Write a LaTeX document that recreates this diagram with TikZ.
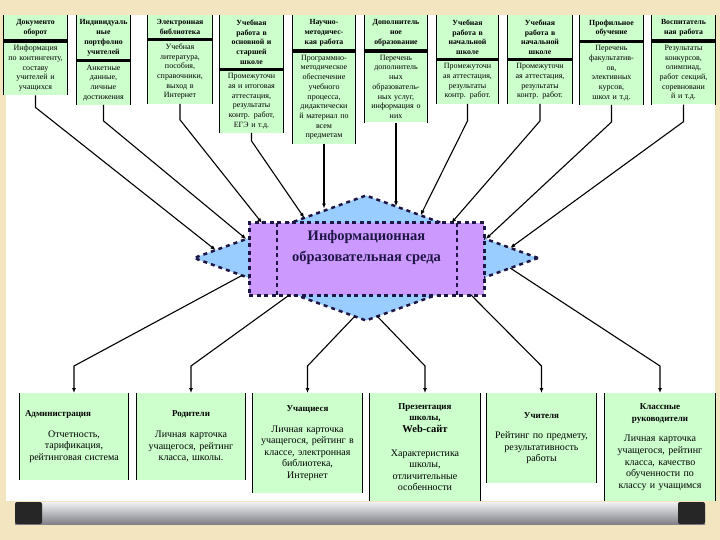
\documentclass[tikz,border=0pt]{standalone}
\usepackage{fontspec}
\setmainfont{Liberation Serif}
\usetikzlibrary{shapes.geometric,arrows.meta}
\definecolor{beige}{RGB}{243,229,192}
\definecolor{boxgreen}{RGB}{204,255,204}
\definecolor{envpurple}{RGB}{204,153,255}
\definecolor{envblue}{RGB}{153,204,255}
\definecolor{navy}{RGB}{30,22,70}
\definecolor{rail}{RGB}{184,186,196}
\tikzset{
  hd/.style={fill=boxgreen, anchor=north, inner xsep=2pt, inner ysep=4.5pt, text width=#1, align=center, font=\fontsize{7.8}{9.8}\selectfont\bfseries},
  bd/.style={fill=boxgreen, anchor=north, inner xsep=2pt, inner ysep=4pt, text width=#1, align=center, font=\fontsize{8}{9.7}\selectfont},
  low/.style={fill=boxgreen, anchor=north, inner xsep=2pt, text width=#1, align=center, font=\fontsize{10}{11.6}\selectfont},
  side/.style={line width=0.9pt},
  bar/.style={line width=3.5pt},
  dsh/.style={navy, line width=3pt, dash pattern=on 4pt off 3.5pt},
  arr/.style={line width=1.1pt, -{Latex[length=5pt,width=4pt]}},
  rra/.style={line width=1.1pt, {Latex[length=5pt,width=4pt]}-},
}
\begin{document}
\begin{tikzpicture}[x=1pt,y=-1pt]
            \useasboundingbox (0,0) rectangle (720,540);
            \fill[beige] (0,0) rectangle (720,540);
            \fill[white] (6,15) rectangle (715,501);
            \shade[top color=white!80!rail, middle color=rail, bottom color=rail!70!black] (15,502) rectangle (705,524);
            \fill[black!85, rounded corners=2pt] (15,502) rectangle (42,524) (678,502) rectangle (705,524);
            % centre
            \node[diamond, draw=navy, fill=envblue, line width=2.5pt, dash pattern=on 4pt off 4pt, minimum width=344pt, minimum height=125pt, inner sep=0pt, outer sep=0pt] (dia) at (366,258) {};
            \node[draw=navy, fill=envpurple, line width=3pt, dash pattern=on 4pt off 3.5pt, minimum width=235pt, minimum height=72pt, outer sep=0pt, text=navy, align=center, text depth=27pt, font=\fontsize{14.5}{21}\selectfont\bfseries] (rc) at (366.5,259) {Информационная\\образовательная среда};
            \draw[dsh, line width=2.5pt] ([xshift=28pt]rc.north west) -- ([xshift=28pt]rc.south west) ([xshift=-27pt]rc.north east) -- ([xshift=-27pt]rc.south east);
            % top row
            \node[hd=59pt] (h1) at (35.5,15) {Документо\\оборот};
            \node[bd=59pt] (b1) at (h1.south) {Информация\\по контингенту,\\составу\\учителей и\\учащихся};
            \node[hd=49pt] (h2) at (103.5,15) {Индивидуаль\\ные\\портфолио\\учителей};
            \node[bd=49pt] (b2) at (h2.south) {Анкетные\\данные,\\личные\\достижения};
            \node[hd=60pt] (h3) at (180,15) {Электронная\\библиотека};
            \node[bd=60pt] (b3) at (h3.south) {Учебная\\литература,\\пособия,\\справочники,\\выход в\\Интернет};
            \node[hd=59pt] (h4) at (251.5,15) {Учебная\\работа в\\основной и\\старшей\\школе};
            \node[bd=59pt] (b4) at (h4.south) {Промежуточн\\ая и итоговая\\аттестация,\\результаты\\контр. работ,\\ЕГЭ и т.д.};
            \node[hd=58pt] (h5) at (324,15) {Научно-\\методичес-\\кая работа};
            \node[bd=58pt] (b5) at (h5.south) {Программно-\\методическое\\обеспечение\\учебного\\процесса,\\дидактически\\й материал по\\всем\\предметам};
            \node[hd=58pt] (h6) at (396,15) {Дополнитель\\ное\\образование};
            \node[bd=58pt] (b6) at (h6.south) {Перечень\\дополнитель\\ных\\образователь-\\ных услуг,\\информация о\\них};
            \node[hd=57pt] (h7) at (467.5,15) {Учебная\\работа в\\начальной\\школе};
            \node[bd=57pt] (b7) at (h7.south) {Промежуточн\\ая аттестация,\\результаты\\контр. работ.};
            \node[hd=60pt] (h8) at (540,15) {Учебная\\работа в\\начальной\\школе};
            \node[bd=60pt] (b8) at (h8.south) {Промежуточн\\ая аттестация,\\результаты\\контр. работ.};
            \node[hd=59pt] (h9) at (611.5,15) {Профильное\\обучение};
            \node[bd=59pt] (b9) at (h9.south) {Перечень\\факультатив-\\ов,\\элективных\\курсов,\\школ и т.д.};
            \node[hd=59pt] (h10) at (683.5,15) {Воспитатель\\ная работа};
            \node[bd=59pt] (b10) at (h10.south) {Результаты\\конкурсов,\\олимпиад,\\работ секций,\\соревновани\\й и т.д.};
            \foreach \n in {1,...,10} {
              \draw[side] (h\n.north west) -- (b\n.south west) (h\n.north east) -- (b\n.south east);
              \draw[bar] (h\n.south west) -- (h\n.south east);
            }
            % bottom row
            \node[low=104pt, minimum height=87pt] (a1) at (74,393) {\makebox[104pt][l]{\hspace{3pt}\bfseries\fontsize{9}{11}\selectfont Администрация}\\[9pt] Отчетность,\\тарификация,\\рейтинговая система};
            \node[low=104pt, minimum height=87pt] (a2) at (191,393) {{\bfseries\fontsize{9}{11}\selectfont Родители}\\[9pt] Личная карточка\\учащегося, рейтинг\\класса, школы.};
            \node[low=105pt, minimum height=100pt] (a3) at (307.5,393) {{\bfseries\fontsize{9}{11}\selectfont Учащиеся}\\[9pt] Личная карточка\\учащегося, рейтинг в\\классе, электронная\\библиотека,\\Интернет};
            \node[low=106pt, minimum height=108pt] (a4) at (425,393) {{\bfseries\fontsize{9}{11}\selectfont Презентация\\школы,}\\{\bfseries\fontsize{10.5}{12}\selectfont Web-сайт}\\[12pt] Характеристика\\школы,\\отличительные\\особенности};
            \node[low=105pt, minimum height=90pt] (a5) at (541.5,393) {{\bfseries\fontsize{9}{11}\selectfont Учителя}\\[9pt] Рейтинг по предмету,\\результативность\\работы};
            \node[low=106pt, minimum height=108pt] (a6) at (660,393) {{\bfseries\fontsize{9}{11}\selectfont Классные\\руководители}\\[9pt] Личная карточка\\учащегося, рейтинг\\класса, качество\\обученности по\\классу и учащимся};
            \foreach \n in {1,...,6} {
              \draw[side] (a\n.north west) -- (a\n.south west) (a\n.north east) -- (a\n.south east);
            }
            % connectors
            \draw[arr] (b1.south) -- ++(0,12) -- (dia.177);
            \draw[arr] (b2.south) -- ++(0,16) -- (dia.171);
            \draw[arr] (b3.south) -- ++(0,16) -- (rc.161);
            \draw[arr] (b4.south) -- ++(0,8) -- (dia.147);
            \draw[arr] (b5.south) -- (b5.south |- dia.126);
            \draw[arr] (b6.south) -- (b6.south |- dia.60);
            \draw[arr] (b7.south) -- ++(0,17) -- (dia.38);
            \draw[arr] (b8.south) -- ++(0,17) -- (rc.23);
            \draw[arr] (b9.south) -- ++(0,17) -- (dia.9);
            \draw[arr] (b10.south) -- ++(0,17) -- (dia.4);
            \draw[rra] (a1.north) -- ++(0,-27) -- (dia.188);
            \draw[rra] (a2.north) -- ++(0,-27) -- (rc.205);
            \draw[rra] (a3.north) -- ++(0,-27) -- (dia.259);
            \draw[rra] (a4.north) -- ++(0,-27) -- (dia.281);
            \draw[rra] (a5.north) -- ++(0,-27) -- (rc.341);
            \draw[rra] (a6.north) -- ++(0,-27) -- (dia.356);
          \end{tikzpicture}
\end{document}
